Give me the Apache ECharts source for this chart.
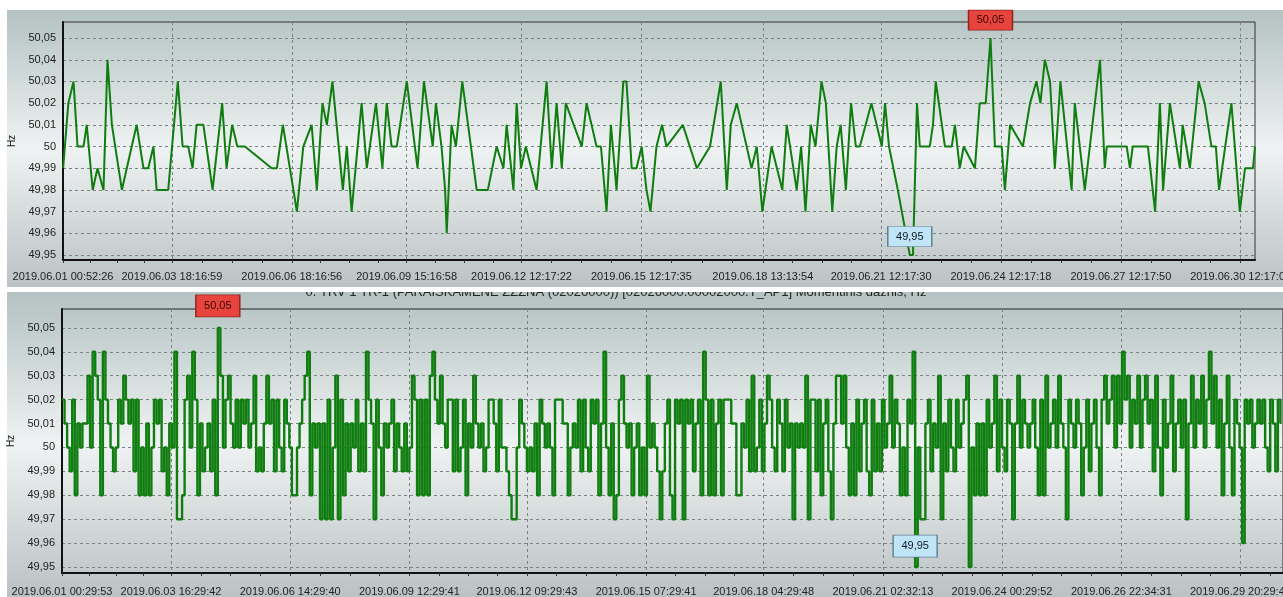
<!DOCTYPE html>
<html><head><meta charset="utf-8">
<script src="https://cdn.jsdelivr.net/npm/echarts@6/dist/echarts.min.js"></script>
<style>html,body{margin:0;padding:0;background:#fff}#c{width:1283px;height:597px}</style>
</head><body><div id="c"></div><script>
// ---------- data ----------
const topTickLabels = ['2019.06.01 00:52:26','2019.06.03 18:16:59','2019.06.06 18:16:56','2019.06.09 15:16:58','2019.06.12 12:17:22','2019.06.15 12:17:35','2019.06.18 13:13:54','2019.06.21 12:17:30','2019.06.24 12:17:18','2019.06.27 12:17:50','2019.06.30 12:17:00'];
const bottomTickLabels = ['2019.06.01 00:29:53','2019.06.03 16:29:42','2019.06.06 14:29:40','2019.06.09 12:29:41','2019.06.12 09:29:43','2019.06.15 07:29:41','2019.06.18 04:29:48','2019.06.21 02:32:13','2019.06.24 00:29:52','2019.06.26 22:34:31','2019.06.29 20:29:41'];
const hzTicks = [49.95,49.96,49.97,49.98,49.99,50.00,50.01,50.02,50.03,50.04,50.05];
const bottomTitle = '0. TRV 1 TR-1 (PARAIŠKAMENĖ ZZZNA (02026000)) [02026000.00002000.T_AP1] Momentinis dažnis, Hz';

// top chart: day offsets from 2019.06.01 00:00 and frequency
const topEndDays = 29.87;
const topDays = [
0.04,0.17,0.30,0.40,0.55,0.63,0.78,0.90,1.05,1.15,
1.26,1.51,1.88,2.05,2.17,2.30,2.38,2.67,2.91,3.03,
3.17,3.28,3.38,3.55,3.78,4.02,4.13,4.27,4.40,4.59,
5.26,5.39,5.54,5.89,6.05,6.26,6.39,6.53,6.64,6.78,
7.04,7.14,7.26,7.51,7.64,7.87,8.03,8.14,8.26,8.39,
8.64,8.91,9.07,9.29,9.37,9.51,9.60,9.64,9.76,9.87,
10.03,10.39,10.67,10.89,11.06,11.14,11.31,11.39,11.50,11.62,
11.89,12.14,12.27,12.39,12.52,12.62,13.02,13.14,13.39,13.50,
13.64,13.75,13.89,14.06,14.14,14.27,14.39,14.52,14.64,14.74,
14.89,15.03,15.14,15.55,15.90,16.23,16.50,16.65,16.75,16.90,
17.27,17.40,17.54,17.77,18.04,18.15,18.40,18.51,18.62,18.75,
18.87,19.02,19.13,19.29,19.40,19.50,19.63,19.76,19.88,19.98,
20.27,20.53,20.61,20.71,20.93,21.23,21.31,21.41,21.48,21.73,
21.81,21.88,22.11,22.28,22.36,22.48,22.58,22.86,22.98,23.13,
23.25,23.36,23.53,23.61,23.74,24.06,24.24,24.40,24.50,24.61,
24.74,24.86,25.00,25.28,25.36,25.61,25.99,26.11,26.16,26.66,
26.74,26.81,27.19,27.37,27.49,27.57,27.74,27.99,28.06,28.24,
28.46,28.61,28.78,28.89,28.97,29.28,29.49,29.62,29.82,29.87];
const topHz = [
49.99,50.02,50.03,50.00,50.00,50.01,49.98,49.99,49.98,50.04,
50.01,49.98,50.01,49.99,49.99,50.00,49.98,49.98,50.03,50.00,
50.00,49.99,50.01,50.01,49.98,50.02,49.99,50.01,50.00,50.00,
49.99,49.99,50.01,49.97,50.00,50.01,49.98,50.02,50.01,50.03,
49.98,50.00,49.97,50.02,49.99,50.02,49.99,50.02,50.00,50.00,
50.03,49.99,50.03,50.00,50.02,50.00,49.98,49.96,50.01,50.00,
50.03,49.98,49.98,50.00,49.99,50.01,49.98,50.02,49.99,50.00,
49.98,50.03,49.99,50.02,49.99,50.02,50.00,50.02,50.00,50.00,
49.97,50.01,49.98,50.03,50.03,49.99,49.99,50.00,49.98,49.97,
50.00,50.01,50.00,50.01,49.99,50.00,50.03,49.98,50.01,50.02,
49.99,50.00,49.97,50.00,49.98,50.01,49.98,50.00,49.97,50.01,
50.00,50.03,50.02,49.97,50.00,50.01,49.98,50.02,50.00,50.00,
50.02,50.00,50.02,50.00,49.98,49.95,49.95,50.02,50.00,50.00,
50.01,50.03,50.00,50.00,50.01,49.99,50.00,49.99,50.02,50.02,
50.05,50.00,50.00,49.98,50.01,50.00,50.02,50.03,50.02,50.04,
50.03,49.99,50.03,49.98,50.02,49.98,50.04,49.99,50.00,50.00,
49.99,50.00,50.00,49.97,50.02,49.98,50.02,49.99,50.01,49.99,
50.03,50.02,50.00,50.00,49.98,50.02,49.97,49.99,49.99,50.00];

// bottom chart: regularly sampled readings (every 1.5 h) from the first label
const bottomStepHours = 1.5;
const bottomHz = [
50.02,50.01,50.00,49.99,50.02,49.98,50.01,50.00,50.01,50.01,
50.03,50.00,50.04,50.03,50.02,49.98,50.04,50.02,50.01,50.00,
49.99,50.00,50.02,50.01,50.03,50.02,50.01,50.02,49.99,50.02,
49.98,50.00,49.98,50.01,49.98,50.00,50.02,50.01,50.02,49.99,
50.00,49.98,50.01,50.00,50.04,49.97,49.97,49.98,50.02,50.03,
50.00,50.04,50.02,49.98,50.01,49.99,50.00,50.01,49.99,50.02,
49.98,50.05,50.03,50.00,50.02,50.03,50.01,50.00,50.02,50.00,
50.02,50.01,50.02,50.00,50.01,50.03,49.99,50.00,49.99,50.01,
50.03,50.01,50.02,49.99,50.02,50.00,49.99,50.02,50.01,50.00,
49.98,49.98,50.00,50.01,50.02,50.03,50.04,49.98,50.01,50.00,
50.01,49.97,50.01,49.97,50.02,49.97,50.00,50.03,49.97,50.02,
49.98,50.01,49.99,50.01,50.00,50.02,49.99,50.01,49.99,50.04,
50.02,50.01,49.97,50.02,50.00,49.98,50.01,50.00,50.01,50.02,
49.99,50.01,50.00,49.99,50.01,49.99,50.00,50.03,50.02,49.98,
50.02,49.98,50.02,49.98,50.03,50.04,50.02,50.01,50.03,50.01,
50.00,50.02,50.02,49.99,50.02,49.99,50.00,50.02,49.98,50.01,
50.00,50.03,50.01,50.00,50.01,49.99,50.00,50.02,50.02,50.01,
49.99,50.02,50.00,50.00,49.99,49.98,49.97,49.97,50.00,50.02,
50.01,50.00,49.99,50.00,49.99,50.01,49.98,50.02,50.01,50.00,
50.01,50.00,49.98,50.02,50.02,50.02,50.01,50.01,49.98,50.00,
50.01,50.00,50.02,49.99,50.02,50.00,49.99,50.02,50.01,50.02,
49.98,50.01,50.04,50.00,49.98,50.01,49.97,49.98,50.02,50.03,
50.01,50.00,50.01,49.98,50.00,50.01,49.98,50.00,49.98,50.03,
50.00,50.01,50.00,49.99,49.97,49.99,50.01,50.02,49.98,49.97,
50.02,50.01,50.02,49.97,50.02,50.01,50.02,49.99,50.01,50.02,
49.98,50.04,50.02,49.98,50.02,49.98,50.01,50.02,49.98,50.02,
50.02,50.02,50.01,50.01,49.98,49.98,50.01,50.00,50.02,49.99,
50.03,49.99,50.00,50.02,49.99,50.01,50.03,50.02,50.00,49.99,
50.02,50.01,49.99,50.02,50.00,50.01,49.97,50.01,50.00,50.01,
50.00,50.03,49.97,50.02,50.02,49.99,50.02,49.98,50.01,50.02,
49.99,49.97,50.01,50.03,50.03,50.01,50.03,50.00,49.98,50.01,
49.98,50.02,49.99,50.01,50.02,49.99,49.98,50.02,49.99,50.01,
49.99,50.02,50.00,50.01,50.03,50.00,50.02,50.01,49.98,50.00,
49.98,50.02,50.01,50.04,49.95,50.00,49.97,49.97,50.01,50.02,
49.99,50.01,50.00,50.03,49.97,50.01,49.99,50.02,50.00,49.99,
50.02,50.00,50.01,50.02,50.03,49.95,50.00,49.98,50.01,49.98,
50.01,49.98,50.02,50.00,50.01,50.03,49.99,50.02,50.00,49.99,
50.02,50.01,49.97,50.01,50.03,50.00,50.02,50.01,50.00,50.01,
50.02,50.00,49.98,50.02,49.98,50.03,50.00,50.01,50.02,50.00,
50.03,50.01,50.00,49.97,50.02,50.01,50.00,50.02,50.01,49.98,
50.00,50.02,49.99,50.01,50.02,50.00,49.98,50.02,50.03,50.01,
50.02,50.03,50.00,50.03,50.01,50.04,50.02,50.03,50.00,50.02,
50.01,50.03,50.00,50.02,50.03,50.01,50.02,49.99,50.03,50.00,
49.98,50.02,50.00,50.01,50.03,49.99,50.01,50.02,50.00,50.02,
49.97,50.01,50.03,50.00,50.02,50.01,50.03,50.00,50.02,50.04,
50.01,50.03,50.00,50.02,49.98,50.01,50.03,50.00,49.98,50.02,
50.01,50.00,49.96,50.02,50.01,50.02,50.00,50.01,50.02,50.01,
50.02,50.00,49.99,50.02,50.01,49.99,50.02,50.01];

// ---------- helpers ----------
const DAY = 86400000;
const FONT = 'Liberation Sans, Arial, sans-serif';
const monthStart = Date.UTC(2019, 5, 1);
function parseTs(s){const m=s.match(/(\d+)\.(\d+)\.(\d+) (\d+):(\d+):(\d+)/);return Date.UTC(+m[1],+m[2]-1,+m[3],+m[4],+m[5],+m[6]);}
const pad=n=>String(n).padStart(2,'0');
function fmtTs(v){const d=new Date(Math.round(v));return d.getUTCFullYear()+'.'+pad(d.getUTCMonth()+1)+'.'+pad(d.getUTCDate())+' '+pad(d.getUTCHours())+':'+pad(d.getUTCMinutes())+':'+pad(d.getUTCSeconds());}
function fmtHz(v){return (Math.round(v*100)/100).toFixed(2).replace(/\.?0+$/,'').replace('.',',');}
function withMinor(major,max){const out=[];for(let i=0;i<major.length;i++){out.push(major[i]);const step=(i<major.length-1?major[i+1]-major[i]:major[i]-major[i-1])/4;for(let k=1;k<4;k++){const t=major[i]+k*step;if(t<max)out.push(t);}}return out;}

const topMajor = topTickLabels.map(parseTs);
const topMin = topMajor[0];
const topMax = monthStart + topEndDays*DAY;
const topData = topDays.map((d,i)=>[monthStart + d*DAY, topHz[i]]);

const botMajor = bottomTickLabels.map(parseTs);
const botMin = botMajor[0];
const botStep = bottomStepHours*3600000;
const botMax = botMin + bottomHz.length*botStep;
const botData = bottomHz.map((v,i)=>[botMin + i*botStep, v]);

const GRIDLINE = {type:[3,3], color:'#7b8484', width:1};
function xAxes(gi, min, max, major, margin){
  return [
    {type:'value', gridIndex:gi, min, max,
     axisLine:{show:true, lineStyle:{color:'#111', width:2}},
     axisTick:{show:true, length:3, customValues:withMinor(major,max), lineStyle:{color:'#333'}},
     axisLabel:{customValues:major, formatter:fmtTs, fontSize:11, color:'#222', margin:margin, fontFamily:FONT},
     splitLine:{show:false}},
    {type:'value', gridIndex:gi, min, max,
     axisLine:{show:false}, axisTick:{show:false, customValues:major},
     axisLabel:{show:false, customValues:major},
     splitLine:{show:true, customValues:major, lineStyle:GRIDLINE}}
  ];
}
function yAxis(gi, min, max){
  return {type:'value', gridIndex:gi, min, max, name:'Hz', nameLocation:'middle', nameGap:46, nameRotate:90,
    nameTextStyle:{fontSize:10, color:'#222', fontFamily:FONT},
    axisLine:{show:true, lineStyle:{color:'#111', width:2}},
    axisTick:{show:false, customValues:hzTicks},
    axisLabel:{customValues:hzTicks, formatter:fmtHz, fontSize:11, color:'#222', margin:7, fontFamily:FONT},
    splitLine:{show:true, customValues:hzTicks, lineStyle:GRIDLINE}};
}
function marks(maxOff, minOff, h){
  return {symbol:'rect', symbolSize:[44,h],
    label:{show:true, position:'inside', formatter:p=>fmtHz(p.value), fontSize:11, fontFamily:FONT},
    data:[
      {type:'max', valueDim:'y', symbolOffset:[0,maxOff], itemStyle:{color:'#e6443c', borderColor:'#8c2420', borderWidth:1}, label:{color:'#3a0505'}},
      {type:'min', valueDim:'y', symbolOffset:[0,minOff], itemStyle:{color:'#bfe5f6', borderColor:'#5f7f8f', borderWidth:1}, label:{color:'#0b1a26'}}
    ]};
}
const panelGrad = () => new echarts.graphic.LinearGradient(0,0,0,1,[
  {offset:0, color:'#b4c2c2'},{offset:0.5, color:'#eff2f2'},{offset:1, color:'#bac2c4'}]);

const chart = echarts.init(document.getElementById('c'), null, {renderer:'canvas'});
chart.setOption({
  animation:false,
  backgroundColor:'#ffffff',
  graphic:{elements:[
    {type:'rect', z:-10, shape:{x:7, y:292, width:1276, height:305}, style:{fill:panelGrad()}},
    {type:'text', z:-9, x:616, y:286, style:{text:bottomTitle, fill:'#222', font:'13px '+FONT, textAlign:'center', textVerticalAlign:'top'}},
    {type:'rect', z:-8, shape:{x:0, y:286, width:1283, height:6}, style:{fill:'#ffffff'}},
    {type:'rect', z:-8, shape:{x:7, y:10, width:1276, height:277}, style:{fill:panelGrad()}}
  ]},
  grid:[
    {left:63, top:22, right:28, height:238, outerBoundsMode:'none', containLabel:false, show:true, borderColor:'#333', borderWidth:1, backgroundColor:'transparent'},
    {left:62, top:309, right:0, height:264, outerBoundsMode:'none', containLabel:false, show:true, borderColor:'#222', borderWidth:1, backgroundColor:'transparent'}
  ],
  xAxis:[...xAxes(0, topMin, topMax, topMajor, 11), ...xAxes(1, botMin, botMax, botMajor, 13)],
  yAxis:[yAxis(0, 49.9477, 50.0574), yAxis(1, 49.9475, 50.0579)],
  series:[
    {type:'line', xAxisIndex:0, yAxisIndex:0, data:topData, symbol:'none', lineStyle:{color:'#0f7d0f', width:2}, itemStyle:{color:'#0f7d0f'},
     markPoint:marks(-18, -18.5, 20)},
    {type:'line', xAxisIndex:2, yAxisIndex:1, data:botData, step:'end', symbol:'none', lineStyle:{color:'#0f7d0f', width:2.4}, itemStyle:{color:'#0f7d0f'},
     markPoint:marks(-22, -21, 22)}
  ]
});
</script></body></html>
